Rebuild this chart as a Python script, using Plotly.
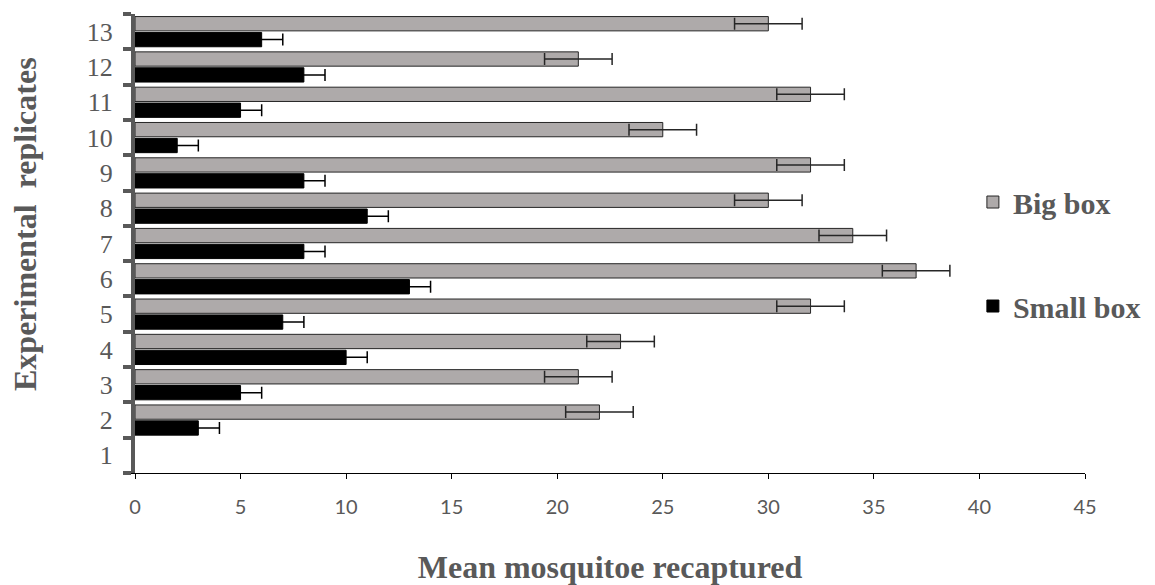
import plotly.graph_objects as go

replicates = ["1", "2", "3", "4", "5", "6", "7", "8", "9", "10", "11", "12", "13"]
big_box = [None, 22, 21, 23, 32, 37, 34, 30, 32, 25, 32, 21, 30]
small_box = [None, 3, 5, 10, 7, 13, 8, 11, 8, 2, 5, 8, 6]
big_err = [None, 1.6, 1.6, 1.6, 1.6, 1.6, 1.6, 1.6, 1.6, 1.6, 1.6, 1.6, 1.6]
small_err = [None, 1, 1, 1, 1, 1, 1, 1, 1, 1, 1, 1, 1]
x_ticks = [0, 5, 10, 15, 20, 25, 30, 35, 40, 45]

GRAY_TXT = "#595959"

fig = go.Figure()
fig.add_trace(go.Bar(
    y=replicates, x=small_box, orientation="h", name="Small box",
    legendgroup="small", legendrank=2,
    marker=dict(color="#000000", line=dict(color="#000000", width=1)),
    error_x=dict(type="data", array=small_err, visible=True,
                 color="#000000", thickness=1.5, width=6),
))
fig.add_trace(go.Bar(
    y=replicates, x=big_box, orientation="h", name="Big box",
    legendgroup="big", legendrank=1,
    marker=dict(color="#AEAAAA", line=dict(color="#262626", width=1)),
    error_x=dict(type="data", array=big_err, visible=True,
                 color="#262626", thickness=1.5, width=6),
))

fig.update_layout(
    width=1155, height=585,
    margin=dict(l=135, r=70, t=14, b=112, autoexpand=False),
    paper_bgcolor="white", plot_bgcolor="white",
    barmode="group", bargap=0.1, bargroupgap=0.1,
    showlegend=True,
    legend=dict(
        x=0.882, y=0.647, xanchor="left", yanchor="top",
        traceorder="grouped", tracegroupgap=62,
        font=dict(family="Liberation Serif", size=30, color=GRAY_TXT, weight="bold"),
        bgcolor="rgba(0,0,0,0)",
    ),
    xaxis=dict(
        range=[0, 45], tickmode="array", tickvals=x_ticks,
        showline=True, linecolor="#000000", linewidth=1,
        ticks="outside", ticklen=5, tickcolor="#000000", tickwidth=1,
        showgrid=False, zeroline=False,
        tickfont=dict(family="Lato", size=20, color=GRAY_TXT),
        ticklabelstandoff=11,
        title=dict(text="Mean mosquitoe recaptured", standoff=40,
                   font=dict(family="Liberation Serif", size=32, color=GRAY_TXT, weight="bold")),
    ),
    yaxis=dict(
        type="category", categoryorder="array", categoryarray=replicates,
        showline=True, linecolor=GRAY_TXT, linewidth=4,
        ticks="outside", tickson="boundaries", ticklen=8, tickcolor=GRAY_TXT, tickwidth=4,
        showgrid=False, zeroline=False,
        tickfont=dict(family="Liberation Serif", size=26, color=GRAY_TXT),
        ticklabelstandoff=13,
    ),
    annotations=[dict(
        text="<b>Experimental\u00a0 replicates</b>", textangle=-90,
        xref="paper", yref="paper", x=-0.1158, y=0.5425,
        xanchor="center", yanchor="middle", showarrow=False,
        font=dict(family="Liberation Serif", size=32, color=GRAY_TXT),
    )],
)

fig.write_html("out.html")
